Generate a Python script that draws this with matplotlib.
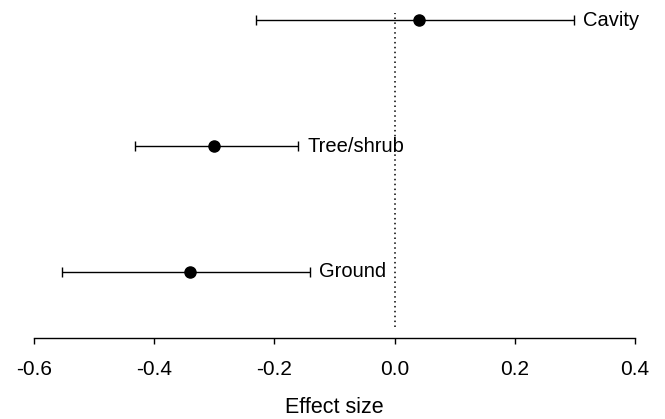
import matplotlib
matplotlib.use("Agg")
import matplotlib.pyplot as plt

# nest types, effect sizes and 95% CI bounds
groups = ["Cavity", "Tree/shrub", "Ground"]
effect = [0.04, -0.30, -0.34]
ci_low = [-0.23, -0.432, -0.553]
ci_high = [0.298, -0.16, -0.14]
ypos = [3, 2, 1]

xticks = [-0.6, -0.4, -0.2, 0.0, 0.2, 0.4]
xtick_labels = ["-0.6", "-0.4", "-0.2", "0.0", "0.2", "0.4"]

plt.rcParams['font.family'] = ['Liberation Sans', 'DejaVu Sans']

fig = plt.figure(figsize=(6.65, 4.19), dpi=100)
ax = fig.add_axes([0.0511, 0.2196, 0.9038, 0.749])

err_lo = [e - l for e, l in zip(effect, ci_low)]
err_hi = [h - e for e, h in zip(effect, ci_high)]
ax.errorbar(effect, ypos, xerr=[err_lo, err_hi], fmt='o', color='black',
            ecolor='black', elinewidth=1.0, capsize=3.8, capthick=1.0,
            markersize=8.0)

for g, h, y in zip(groups, ci_high, ypos):
    ax.annotate(g, (h, y), xytext=(6.5, 0), textcoords='offset points',
                va='center', ha='left', fontsize=14.5)

ax.axvline(0, color='black', linestyle=(0, (1, 2.2)), linewidth=1.1)

ax.set_xlim(-0.6, 0.4)
ax.set_ylim(0.563, 3.056)
ax.set_xticks(xticks, xtick_labels)
ax.set_yticks([])
ax.tick_params(axis='x', length=4, width=1.0, pad=11.5, labelsize=15)

for s in ['top', 'right', 'left']:
    ax.spines[s].set_visible(False)
ax.spines['bottom'].set_position(('outward', 8))
ax.spines['bottom'].set_linewidth(1.0)

ax.set_xlabel("Effect size", fontsize=15.5, labelpad=13)

fig.savefig("out.png", dpi=100)
plt.close(fig)
